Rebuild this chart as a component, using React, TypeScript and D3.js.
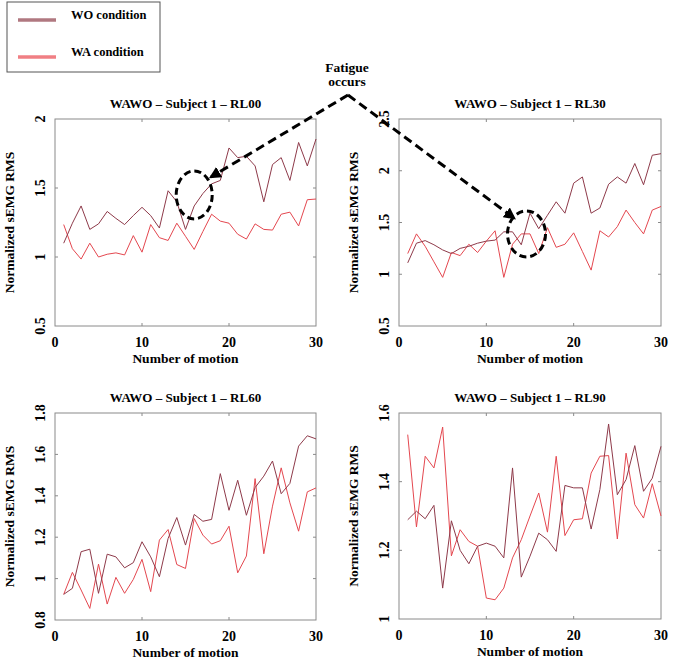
import React, { useEffect, useRef } from "react";
import * as d3 from "d3";

const motions = d3.range(1, 31);

// RL00
const rl00WO = [1.1, 1.245, 1.37, 1.2, 1.24, 1.33, 1.28, 1.235, 1.3, 1.36, 1.3, 1.21, 1.48, 1.4, 1.2, 1.37, 1.46, 1.53, 1.555, 1.79, 1.72, 1.73, 1.66, 1.4, 1.67, 1.72, 1.555, 1.83, 1.66, 1.855];
const rl00WA = [1.235, 1.06, 0.985, 1.1, 1.0, 1.02, 1.03, 1.015, 1.155, 1.035, 1.235, 1.14, 1.12, 1.245, 1.15, 1.055, 1.185, 1.31, 1.26, 1.245, 1.165, 1.13, 1.24, 1.2, 1.195, 1.31, 1.325, 1.225, 1.415, 1.42];
// RL30
const rl30WO = [1.11, 1.3, 1.325, 1.285, 1.235, 1.2, 1.25, 1.27, 1.3, 1.32, 1.33, 1.41, 1.41, 1.285, 1.59, 1.44, 1.57, 1.7, 1.59, 1.88, 1.94, 1.59, 1.64, 1.87, 1.94, 1.88, 2.07, 1.865, 2.15, 2.165];
const rl30WA = [1.2, 1.39, 1.27, 1.12, 0.97, 1.21, 1.18, 1.29, 1.21, 1.32, 1.42, 0.97, 1.29, 1.39, 1.39, 1.2, 1.45, 1.26, 1.29, 1.4, 1.22, 1.04, 1.42, 1.36, 1.46, 1.62, 1.5, 1.39, 1.62, 1.655];
// RL60
const rl60WO = [0.924, 0.953, 1.13, 1.142, 0.929, 1.118, 1.105, 1.052, 1.077, 1.178, 1.105, 1.009, 1.194, 1.295, 1.162, 1.31, 1.277, 1.286, 1.507, 1.33, 1.475, 1.306, 1.44, 1.495, 1.568, 1.41, 1.46, 1.64, 1.69, 1.675];
const rl60WA = [0.924, 1.03, 0.945, 0.856, 1.07, 0.877, 1.006, 0.929, 0.996, 1.093, 0.937, 1.186, 1.237, 1.068, 1.049, 1.29, 1.21, 1.167, 1.183, 1.253, 1.028, 1.109, 1.483, 1.12, 1.35, 1.535, 1.366, 1.229, 1.419, 1.438];
// RL90
const rl90WO = [1.289, 1.314, 1.292, 1.331, 1.09, 1.286, 1.2, 1.161, 1.212, 1.221, 1.212, 1.178, 1.44, 1.122, 1.183, 1.25, 1.231, 1.197, 1.389, 1.382, 1.382, 1.262, 1.377, 1.568, 1.362, 1.406, 1.505, 1.372, 1.41, 1.503];
const rl90WA = [1.537, 1.268, 1.474, 1.44, 1.559, 1.184, 1.26, 1.226, 1.212, 1.061, 1.056, 1.09, 1.178, 1.231, 1.3, 1.367, 1.253, 1.474, 1.243, 1.289, 1.292, 1.425, 1.474, 1.476, 1.233, 1.483, 1.333, 1.294, 1.394, 1.3];

const titles = ["WAWO  – Subject  1 – RL00", "WAWO  – Subject  1 – RL30", "WAWO  – Subject  1 – RL60", "WAWO  – Subject  1 – RL90"];
const yDomains = [[0.5, 2], [0.5, 2.5], [0.8, 1.8], [1, 1.6]];
const yTicks = [[0.5, 1, 1.5, 2], [0.5, 1, 1.5, 2, 2.5], [0.8, 1, 1.2, 1.4, 1.6, 1.8], [1, 1.2, 1.4, 1.6]];
const xTicks = [0, 10, 20, 30];
const woSeries = [rl00WO, rl30WO, rl60WO, rl90WO];
const waSeries = [rl00WA, rl30WA, rl60WA, rl90WA];
const legendLabels = ["WO condition", "WA condition"];

const WO_COLOR = "#8e3a4a";
const WA_COLOR = "#e4474f";
const FONT = '"Liberation Serif", "DejaVu Serif", "Times New Roman", serif';

const App = () => {
  const svgRef = useRef(null);

  useEffect(() => {
    const width = 675;
    const height = 662;
    const svg = d3.select(svgRef.current).attr("width", width).attr("height", height);
    svg.selectAll("*").remove();
    svg.append("rect").attr("width", width).attr("height", height).attr("fill", "#fff");

    const boxes = [
      { left: 55, right: 316, top: 119, bottom: 326 },
      { left: 399, right: 661, top: 119, bottom: 326 },
      { left: 55, right: 316, top: 413, bottom: 620 },
      { left: 399, right: 661, top: 413, bottom: 619 },
    ];

    const scales = [];

    const label = (sel) =>
      sel.style("font-family", FONT).style("font-weight", "bold");

    boxes.forEach((b, i) => {
      const x = d3.scaleLinear().domain([0, 30]).range([b.left, b.right]);
      const y = d3.scaleLinear().domain(yDomains[i]).range([b.bottom, b.top]);
      scales.push({ x, y });
      const g = svg.append("g");

      // frame
      g.append("rect")
        .attr("x", b.left)
        .attr("y", b.top)
        .attr("width", b.right - b.left)
        .attr("height", b.bottom - b.top)
        .attr("fill", "none")
        .attr("stroke", "#8a8a8a")
        .attr("stroke-width", 1);

      // inward ticks, mirrored
      xTicks.slice(1, -1).forEach((t) => {
        g.append("line").attr("x1", x(t)).attr("x2", x(t)).attr("y1", b.bottom).attr("y2", b.bottom - 3).attr("stroke", "#8a8a8a");
        g.append("line").attr("x1", x(t)).attr("x2", x(t)).attr("y1", b.top).attr("y2", b.top + 3).attr("stroke", "#8a8a8a");
      });
      yTicks[i].slice(1, -1).forEach((t) => {
        g.append("line").attr("x1", b.left).attr("x2", b.left + 3).attr("y1", y(t)).attr("y2", y(t)).attr("stroke", "#8a8a8a");
        g.append("line").attr("x1", b.right).attr("x2", b.right - 3).attr("y1", y(t)).attr("y2", y(t)).attr("stroke", "#8a8a8a");
      });

      g.selectAll(".xt")
        .data(xTicks)
        .enter()
        .append("text")
        .attr("x", (d) => x(d))
        .attr("y", b.bottom + 21)
        .attr("text-anchor", "middle")
        .attr("font-size", 14)
        .call(label)
        .text((d) => d);

      g.selectAll(".yt")
        .data(yTicks[i])
        .enter()
        .append("text")
        .attr("transform", (d) => `translate(${b.left - 10},${y(d)}) rotate(-90)`)
        .attr("text-anchor", "middle")
        .attr("font-size", 14)
        .call(label)
        .text((d) => d);

      g.append("text")
        .attr("x", (b.left + b.right) / 2)
        .attr("y", b.bottom + 37)
        .attr("text-anchor", "middle")
        .attr("font-size", 13.5)
        .call(label)
        .text("Number  of motion");

      g.append("text")
        .attr("transform", `translate(${b.left - 41},${(b.top + b.bottom) / 2}) rotate(-90)`)
        .attr("text-anchor", "middle")
        .attr("font-size", 13.5)
        .call(label)
        .text("Normalized  sEMG RMS");

      g.append("text")
        .attr("x", (b.left + b.right) / 2)
        .attr("y", b.top - 11)
        .attr("text-anchor", "middle")
        .attr("font-size", 13)
        .call(label)
        .text(titles[i]);

      const line = d3
        .line()
        .x((d) => x(d[0]))
        .y((d) => y(d[1]));

      g.append("path")
        .datum(motions.map((m, k) => [m, waSeries[i][k]]))
        .attr("d", line)
        .attr("fill", "none")
        .attr("stroke", WA_COLOR)
        .attr("stroke-width", 1);

      g.append("path")
        .datum(motions.map((m, k) => [m, woSeries[i][k]]))
        .attr("d", line)
        .attr("fill", "none")
        .attr("stroke", WO_COLOR)
        .attr("stroke-width", 1);
    });

    // legend
    const lg = svg.append("g");
    lg.append("rect").attr("x", 7).attr("y", 2).attr("width", 153).attr("height", 70).attr("fill", "#fff").attr("stroke", "#555").attr("stroke-width", 1);
    [WO_COLOR, WA_COLOR].forEach((c, k) => {
      const ly = k === 0 ? 20 : 57;
      lg.append("line").attr("x1", 18).attr("x2", 56).attr("y1", ly).attr("y2", ly).attr("stroke", k === 0 ? "#b07880" : "#f07f84").attr("stroke-width", 3.5);
      lg.append("text")
        .attr("x", 71)
        .attr("y", ly - 1)
        .attr("font-size", 12.5)
        .call(label)
        .text(legendLabels[k]);
    });

    // annotation
    const defs = svg.append("defs");
    defs.append("marker")
      .attr("id", "ah")
      .attr("viewBox", "0 0 10 10")
      .attr("refX", 8)
      .attr("refY", 5)
      .attr("markerWidth", 4)
      .attr("markerHeight", 4)
      .attr("orient", "auto")
      .append("path")
      .attr("d", "M0,0 L10,5 L0,10 z")
      .attr("fill", "#000");

    const ann = svg.append("g");
    const e1 = { cx: scales[0].x(16), cy: scales[0].y(1.45) };
    const e2 = { cx: scales[1].x(14.6), cy: scales[1].y(1.39) };
    ann.append("ellipse").attr("cx", e1.cx).attr("cy", e1.cy).attr("rx", 18).attr("ry", 24)
      .attr("fill", "none").attr("stroke", "#000").attr("stroke-width", 3).attr("stroke-dasharray", "7,4");
    ann.append("ellipse").attr("cx", e2.cx).attr("cy", e2.cy).attr("rx", 19).attr("ry", 23)
      .attr("fill", "none").attr("stroke", "#000").attr("stroke-width", 3).attr("stroke-dasharray", "7,4");

    const apex = [348, 95];
    ann.append("line").attr("x1", apex[0]).attr("y1", apex[1]).attr("x2", 211).attr("y2", 177)
      .attr("stroke", "#000").attr("stroke-width", 3).attr("stroke-dasharray", "9,5").attr("marker-end", "url(#ah)");
    ann.append("line").attr("x1", apex[0]).attr("y1", apex[1]).attr("x2", 514).attr("y2", 218)
      .attr("stroke", "#000").attr("stroke-width", 3).attr("stroke-dasharray", "9,5").attr("marker-end", "url(#ah)");

    ["Fatigue", "occurs"].forEach((t, k) => {
      ann.append("text")
        .attr("x", 347)
        .attr("y", 72 + k * 14)
        .attr("text-anchor", "middle")
        .attr("font-size", 13.5)
        .call(label)
        .text(t);
    });
  }, []);

  return <svg ref={svgRef} style={{ position: "absolute", left: 0, top: 0, display: "block" }}></svg>;
};

export default App;
